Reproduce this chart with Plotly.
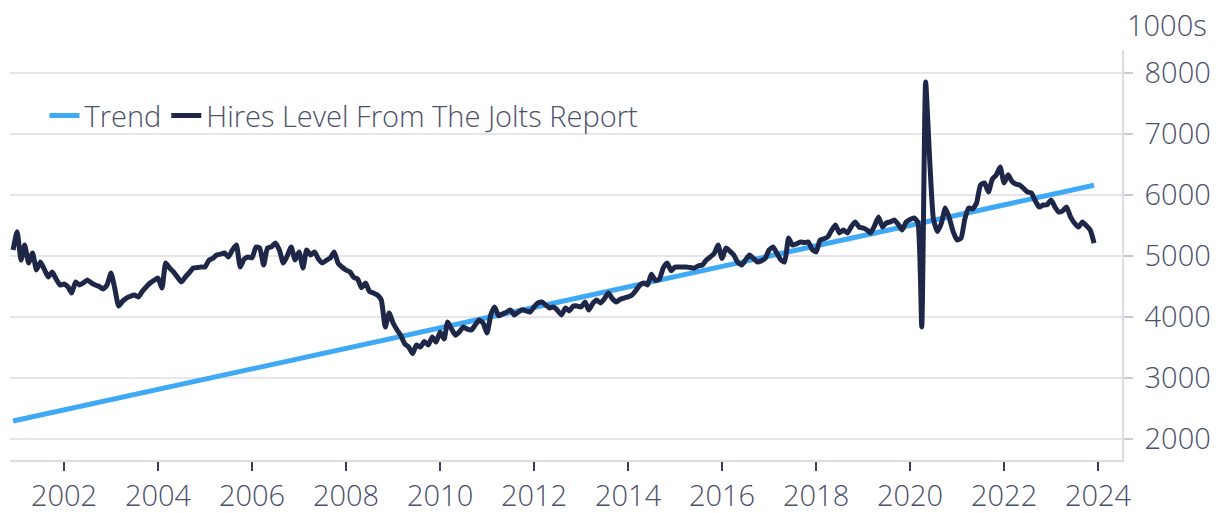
import pandas as pd
import plotly.graph_objects as go

# Monthly hires level (thousands), Dec 2000 .. Dec 2023
hires = [
    5098,  # Dec 2000
    5398, 4934, 5180, 4885, 5049, 4770, 4902, 4780, 4656, 4738, 4620, 4525,  # 2001
    4540, 4492, 4393, 4574, 4525, 4560, 4607, 4560, 4525, 4500, 4459, 4525,  # 2002
    4721, 4450, 4180, 4260, 4311, 4340, 4361, 4328, 4420, 4492, 4557, 4600,  # 2003
    4639, 4475, 4885, 4800, 4738, 4650, 4574, 4656, 4730, 4803, 4810, 4820,  # 2004
    4820, 4934, 4960, 5016, 5030, 5049, 4984, 5098, 5180, 4820, 4950, 4984,  # 2005
    4970, 5148, 5131, 4852, 5131, 5150, 5213, 5098, 4885, 5000, 5148, 4934,  # 2006
    5066, 4803, 5098, 5016, 5066, 4950, 4885, 4930, 4967, 5066, 4880, 4820,  # 2007
    4770, 4738, 4650, 4620, 4480, 4557, 4420, 4393, 4361, 4280, 3836, 4066,  # 2008
    3902, 3787, 3700, 3560, 3510, 3400, 3540, 3508, 3600, 3541, 3672, 3590,  # 2009
    3754, 3640, 3920, 3800, 3700, 3760, 3836, 3800, 3787, 3870, 3951, 3902,  # 2010
    3738, 4050, 4164, 4020, 4050, 4080, 4115, 4033, 4082, 4120, 4100, 4082,  # 2011
    4164, 4230, 4246, 4197, 4148, 4164, 4110, 4033, 4148, 4100, 4180, 4180,  # 2012
    4164, 4246, 4115, 4220, 4279, 4230, 4300, 4393, 4300, 4246, 4290, 4311,  # 2013
    4330, 4361, 4430, 4520, 4557, 4525, 4700, 4600, 4620, 4803, 4885, 4760,  # 2014
    4820, 4820, 4820, 4820, 4810, 4803, 4840, 4852, 4934, 4984, 5040, 5180,  # 2015
    4960, 5131, 5080, 5016, 4900, 4852, 4934, 5016, 4960, 4902, 4920, 4960,  # 2016
    5100, 5148, 5049, 4940, 4902, 5295, 5180, 5200, 5230, 5220, 5230, 5110,  # 2017
    5066, 5262, 5280, 5311, 5420, 5508, 5377, 5426, 5377, 5480, 5557, 5475,  # 2018
    5459, 5426, 5377, 5500, 5639, 5475, 5541, 5560, 5590, 5520, 5426, 5557,  # 2019
    5600, 5623, 5557, 3836, 7852, 6600, 5600, 5400, 5541, 5787, 5623, 5400,  # 2020
    5262, 5295, 5600, 5787, 5770, 5869, 6160, 6197, 6049, 6260, 6328, 6459,  # 2021
    6197, 6330, 6230, 6180, 6164, 6110, 6049, 6033, 5900, 5803, 5836, 5840,  # 2022
    5918, 5800, 5721, 5740, 5803, 5640, 5541, 5475, 5557, 5500, 5426, 5213,  # 2023
]
hires_start = "2000-12-01"

# Linear trend end points
trend_dates = ["2000-12-01", "2023-12-01"]
trend_values = [2295, 6160]

y_ticks = [2000, 3000, 4000, 5000, 6000, 7000, 8000]
x_tick_years = [2002, 2004, 2006, 2008, 2010, 2012, 2014, 2016, 2018, 2020, 2022, 2024]

dates = pd.date_range(hires_start, periods=len(hires), freq="MS")

TEXT = "#4b506b"
FONT = "Open Sans"

fig = go.Figure()
fig.add_trace(go.Scatter(
    x=trend_dates, y=trend_values, mode="lines", name="Trend",
    line=dict(color="#3FA9F5", width=5),
))
fig.add_trace(go.Scatter(
    x=dates, y=hires, mode="lines", name="Hires Level From The Jolts Report",
    line=dict(color="#1E2748", width=5, shape="spline", smoothing=0.5),
))

fig.update_layout(
    width=1219, height=513,
    margin=dict(l=10, r=97, t=50, b=53, autoexpand=False),
    paper_bgcolor="white", plot_bgcolor="white",
    font=dict(family=FONT, size=29, color=TEXT, weight=300),
    showlegend=True,
    legend=dict(
        orientation="h", x=0.031, y=0.84, xanchor="left", yanchor="middle",
        bgcolor="rgba(0,0,0,0)", font=dict(size=29, color=TEXT, weight=300),
        itemwidth=30, traceorder="normal",
    ),
    xaxis=dict(
        type="date", automargin=False,
        range=["2000-11-07", "2024-07-05"],
        tickvals=[f"{y}-01-01" for y in x_tick_years],
        ticktext=[str(y) for y in x_tick_years],
        showgrid=False, zeroline=False,
        showline=True, linecolor="#dcdde3", linewidth=1.5,
        ticks="outside", ticklen=9, tickwidth=1.5, tickcolor="#3c4058",
        tickfont=dict(size=29, color=TEXT),
    ),
    yaxis=dict(
        side="right", automargin=False,
        range=[1656, 8377],
        tickvals=y_ticks,
        showgrid=True, gridcolor="#e6e6ea", gridwidth=2,
        zeroline=False,
        showline=True, linecolor="#dcdde3", linewidth=1.5,
        ticks="outside", ticklen=9, tickwidth=1.5, tickcolor="#c8c9d2",
        ticklabelstandoff=6,
        tickfont=dict(size=29, color=TEXT),
    ),
    annotations=[dict(
        text="1000s", xref="paper", yref="paper", x=1.003, y=1.0,
        xanchor="left", yanchor="bottom", yshift=4, showarrow=False,
        font=dict(size=29, color=TEXT, family=FONT, weight=300),
    )],
)

fig.write_html(
    "out.html",
    config={"displayModeBar": False},
    post_script="document.body.style.margin='0px';",
)
